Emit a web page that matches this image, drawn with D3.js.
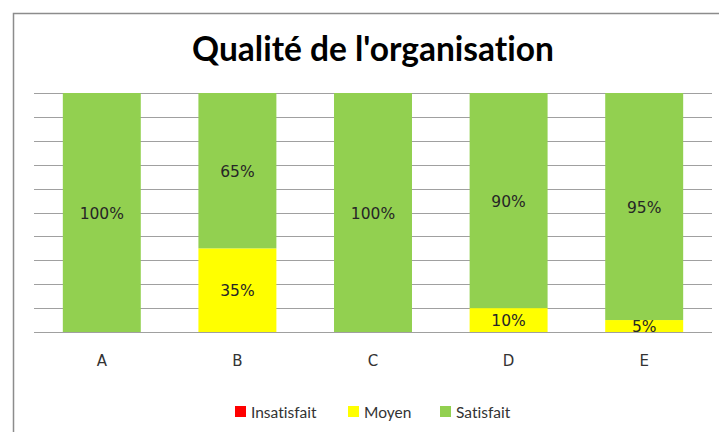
<!DOCTYPE html>
<html>
<head>
<meta charset="utf-8">
<script src="https://cdn.jsdelivr.net/npm/d3@7"></script>
<style>
  body { margin: 0; background: #fff; }
  text { font-variant-ligatures: none; }
</style>
</head>
<body>
<div id="vis"></div>
<script>
// Data
const categories = ["A", "B", "C", "D", "E"];
const seriesNames = ["Insatisfait", "Moyen", "Satisfait"];
const insatisfait = [0, 0, 0, 0, 0];
const moyen = [0, 35, 0, 10, 5];
const satisfait = [100, 65, 100, 90, 95];
const colors = ["#FF0000", "#FFFF00", "#92D050"];

const FRAME_WIDTH = 719;
const FRAME_HEIGHT = 432;
const MARGINS = {left: 34, right: 7, top: 93, bottom: 100};

const FRAME = d3.select("#vis")
  .append("svg")
  .attr("width", FRAME_WIDTH)
  .attr("height", FRAME_HEIGHT);

// outer chart border
FRAME.append("rect")
  .attr("x", 13.5).attr("y", 13.5)
  .attr("width", 720).attr("height", 430)
  .attr("fill", "none")
  .attr("stroke", "#8c8c8c")
  .attr("stroke-width", 1.5);

// title
FRAME.append("text")
  .attr("x", 373).attr("y", 61)
  .attr("text-anchor", "middle")
  .attr("font-family", "Lato, sans-serif")
  .attr("font-weight", "bold")
  .attr("font-size", "33.5px")
  .attr("fill", "#000")
  .text("Qualité de l'organisation");

const X_SCALE = d3.scaleBand()
  .domain(categories)
  .range([MARGINS.left, FRAME_WIDTH - MARGINS.right])
  .paddingInner(0.425)
  .paddingOuter(0.2125);

const Y_SCALE = d3.scaleLinear()
  .domain([0, 100])
  .range([332, MARGINS.top]);

// gridlines
FRAME.append("g")
  .selectAll("line")
  .data(d3.range(0, 101, 10))
  .enter().append("line")
  .attr("x1", MARGINS.left).attr("x2", FRAME_WIDTH - MARGINS.right)
  .attr("y1", d => Math.round(Y_SCALE(d)) + 0.5)
  .attr("y2", d => Math.round(Y_SCALE(d)) + 0.5)
  .attr("stroke", "#a0a0a0")
  .attr("stroke-width", 1);

// stacked data
const table = categories.map((c, i) => ({
  cat: c, Insatisfait: insatisfait[i], Moyen: moyen[i], Satisfait: satisfait[i]
}));
const stacked = d3.stack().keys(seriesNames)(table);

const groups = FRAME.append("g")
  .selectAll("g")
  .data(stacked)
  .enter().append("g")
  .attr("fill", (d, i) => colors[i]);

groups.selectAll("rect")
  .data(d => d)
  .enter().append("rect")
  .attr("x", d => X_SCALE(d.data.cat))
  .attr("width", X_SCALE.bandwidth())
  .attr("y", d => Y_SCALE(d[1]))
  .attr("height", d => Y_SCALE(d[0]) - Y_SCALE(d[1]));

// value labels
groups.selectAll("text")
  .data(d => d.filter(v => v[1] - v[0] > 0))
  .enter().append("text")
  .attr("x", d => X_SCALE(d.data.cat) + X_SCALE.bandwidth() / 2)
  .attr("y", d => (Y_SCALE(d[0]) + Y_SCALE(d[1])) / 2 + 6)
  .attr("text-anchor", "middle")
  .attr("font-family", "DejaVu Sans, sans-serif")
  .attr("font-size", "15.5px")
  .attr("fill", "#262626")
  .text(d => (d[1] - d[0]) + "%");

// x axis
const xAxis = FRAME.append("g")
  .attr("transform", "translate(0," + 332 + ")")
  .call(d3.axisBottom(X_SCALE).tickSize(0).tickPadding(23));
xAxis.select(".domain").remove();
xAxis.selectAll("text")
  .attr("font-family", "DejaVu Sans, sans-serif")
  .attr("font-size", "15px")
  .attr("fill", "#333");

// legend
const legendX = [235, 348, 440];
const legend = FRAME.append("g")
  .selectAll("g")
  .data(seriesNames)
  .enter().append("g")
  .attr("transform", (d, i) => "translate(" + legendX[i] + ",406)");
legend.append("rect")
  .attr("width", 11).attr("height", 11)
  .attr("fill", (d, i) => colors[i]);
legend.append("text")
  .attr("x", 16).attr("y", 11.5)
  .attr("font-family", "Lato, sans-serif")
  .attr("font-size", "15.5px")
  .attr("fill", "#333")
  .text(d => d);
</script>
</body>
</html>
